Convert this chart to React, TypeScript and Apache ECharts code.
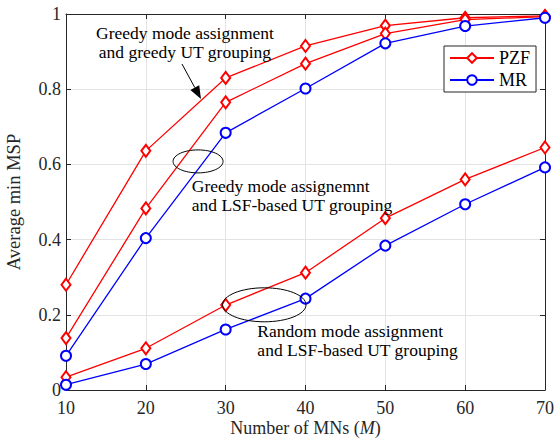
import React, { useEffect, useRef } from "react";
import * as echarts from "echarts";

const mnCounts = [10, 20, 30, 40, 50, 60, 70];
const pzfGreedyGreedy = [0.28, 0.636, 0.83, 0.915, 0.969, 0.99, 0.995];
const pzfGreedyLsf = [0.138, 0.483, 0.765, 0.868, 0.948, 0.985, 0.993];
const mrGreedyLsf = [0.091, 0.404, 0.684, 0.802, 0.922, 0.968, 0.99];
const pzfRandomLsf = [0.034, 0.111, 0.226, 0.312, 0.457, 0.56, 0.645];
const mrRandomLsf = [0.014, 0.069, 0.161, 0.243, 0.384, 0.494, 0.592];
const xTickLabels = ["10", "20", "30", "40", "50", "60", "70"];
const yTickLabels = ["0", "0.2", "0.4", "0.6", "0.8", "1"];
const legendNames = ["PZF", "MR"];

const FONT = "'Liberation Serif', 'DejaVu Serif', serif";
const INK = "#262626";
const RED = "#ff0000";
const BLUE = "#0000ff";

// annotation anchors in data coordinates
const note1Anchor = [24.9, 0.925];
const arrowFrom = [24.53, 0.867];
const arrowTo = [26.91, 0.774];
const ellipse1Center = [26.54, 0.608];
const note2Anchor = [25.75, 0.517];
const ellipse2Center = [34.84, 0.2266];
const note3Anchor = [33.97, 0.131];

function pairs(ys: number[]) {
  return mnCounts.map((x, i) => [x, ys[i]]);
}

export default function App() {
  const ref = useRef<HTMLDivElement>(null);
  useEffect(() => {
    if (!ref.current) return;
    const chart = echarts.init(ref.current, null, { renderer: "svg" });
    const lineSeries = (name: string, ys: number[], color: string, symbol: string, size: any) => ({
      type: "line",
      name,
      data: pairs(ys),
      color,
      symbol,
      symbolSize: size,
      showAllSymbol: true,
      lineStyle: { color, width: 1.3 },
      itemStyle: { color, borderColor: color, borderWidth: 1.3 },
      z: 3,
    });
    const option: any = {
      animation: false,
      backgroundColor: "#fff",
      textStyle: { fontFamily: FONT },
      grid: { left: 66, right: 9, top: 14, bottom: 48, containLabel: false, outerBoundsMode: "none" },
      xAxis: [
        {
          type: "value",
          min: 10,
          max: 70,
          interval: 10,
          name: "{n|Number of MNs (}{i|M}{n|)}",
          nameLocation: "middle",
          nameGap: 30,
          nameMoveOverlap: false,
          nameTextStyle: {
            fontFamily: FONT,
            fontSize: 18,
            color: INK,
            lineHeight: 16,
            rich: {
              n: { fontFamily: FONT, fontSize: 18, color: INK, lineHeight: 16 },
              i: { fontFamily: FONT, fontStyle: "italic", fontSize: 18, color: INK, lineHeight: 16 },
            },
          },
          axisLine: { show: true, lineStyle: { color: INK, width: 1 } },
          axisTick: { show: true, inside: true, length: 5, lineStyle: { color: INK } },
          axisLabel: {
            color: INK,
            fontSize: 18,
            fontFamily: FONT,
            margin: 9,
            formatter: (v: number) => xTickLabels[mnCounts.indexOf(v)] ?? "",
          },
          splitLine: { show: true, lineStyle: { color: "#e3e3e3", width: 1 } },
        },
        {
          type: "value",
          position: "top",
          min: 10,
          max: 70,
          interval: 10,
          axisLine: { show: true, onZero: false, lineStyle: { color: INK, width: 1 } },
          axisTick: { show: true, inside: true, length: 5, lineStyle: { color: INK } },
          axisLabel: { show: false },
          splitLine: { show: false },
        },
      ],
      yAxis: [
        {
          type: "value",
          min: 0,
          max: 1,
          interval: 0.2,
          name: "Average min MSP",
          nameLocation: "middle",
          nameGap: 43,
          nameMoveOverlap: false,
          nameTextStyle: { fontFamily: FONT, fontSize: 18.5, color: INK },
          axisLine: { show: true, lineStyle: { color: INK, width: 1 } },
          axisTick: { show: true, inside: true, length: 5, lineStyle: { color: INK } },
          axisLabel: {
            color: INK,
            fontSize: 18,
            fontFamily: FONT,
            margin: 5,
            formatter: (v: number) => yTickLabels[Math.round(v * 5)] ?? "",
          },
          splitLine: { show: true, lineStyle: { color: "#e3e3e3", width: 1 } },
        },
        {
          type: "value",
          position: "right",
          min: 0,
          max: 1,
          interval: 0.2,
          axisLine: { show: true, onZero: false, lineStyle: { color: INK, width: 1 } },
          axisTick: { show: true, inside: true, length: 5, lineStyle: { color: INK } },
          axisLabel: { show: false },
          splitLine: { show: false },
        },
      ],
      legend: {
        data: legendNames,
        left: 444,
        top: 46,
        orient: "vertical",
        itemWidth: 44,
        itemHeight: 12,
        itemGap: 4,
        padding: [3, 6, 3, 5],
        backgroundColor: "#fff",
        borderColor: INK,
        borderWidth: 1,
        borderRadius: 0,
        textStyle: { fontFamily: FONT, fontSize: 18, color: "#000" },
        z: 10,
      },
      series: [
        lineSeries("PZF", pzfGreedyGreedy, RED, "emptyDiamond", [9, 12]),
        lineSeries("PZF", pzfGreedyLsf, RED, "emptyDiamond", [9, 12]),
        lineSeries("MR", mrGreedyLsf, BLUE, "emptyCircle", 10),
        lineSeries("PZF", pzfRandomLsf, RED, "emptyDiamond", [9, 12]),
        lineSeries("MR", mrRandomLsf, BLUE, "emptyCircle", 10),
      ],
    };
    chart.setOption(option);

    const px = (p: number[]) => chart.convertToPixel({ gridIndex: 0 }, p) as number[];
    const n1 = px(note1Anchor);
    const a0 = px(arrowFrom);
    const a1 = px(arrowTo);
    const e1 = px(ellipse1Center);
    const n2 = px(note2Anchor);
    const e2 = px(ellipse2Center);
    const n3 = px(note3Anchor);

    const dx = a1[0] - a0[0];
    const dy = a1[1] - a0[1];
    const len = Math.sqrt(dx * dx + dy * dy);
    const ux = dx / len;
    const uy = dy / len;
    const headLen = 13;
    const headW = 5;
    const bx = a1[0] - ux * headLen;
    const by = a1[1] - uy * headLen;

    const textStyle = {
      fontFamily: FONT,
      fontSize: 17.5,
      fill: "#000",
      lineHeight: 19,
    };

    chart.setOption({
      graphic: [
        {
          type: "text",
          x: n1[0],
          y: n1[1],
          z: 20,
          style: {
            ...textStyle,
            text: "Greedy mode assignment\nand greedy UT grouping",
            align: "center",
            verticalAlign: "middle",
          },
        },
        {
          type: "line",
          z: 20,
          shape: { x1: a0[0], y1: a0[1], x2: bx, y2: by },
          style: { stroke: "#000", lineWidth: 1 },
        },
        {
          type: "polygon",
          z: 20,
          shape: {
            points: [
              [a1[0], a1[1]],
              [bx - uy * headW, by + ux * headW],
              [bx + uy * headW, by - ux * headW],
            ],
          },
          style: { fill: "#000" },
        },
        {
          type: "ellipse",
          z: 20,
          shape: { cx: e1[0], cy: e1[1], rx: 25, ry: 11.5 },
          style: { fill: "none", stroke: "#000", lineWidth: 1 },
        },
        {
          type: "text",
          x: n2[0],
          y: n2[1],
          z: 20,
          style: {
            ...textStyle,
            text: "Greedy mode assignemnt\nand LSF-based UT grouping",
            align: "left",
            verticalAlign: "middle",
          },
        },
        {
          type: "ellipse",
          z: 20,
          shape: { cx: e2[0], cy: e2[1], rx: 41.7, ry: 17 },
          style: { fill: "none", stroke: "#000", lineWidth: 1 },
        },
        {
          type: "text",
          x: n3[0],
          y: n3[1],
          z: 20,
          style: {
            ...textStyle,
            text: "Random mode assignment\nand LSF-based UT grouping",
            align: "left",
            verticalAlign: "middle",
          },
        },
      ],
    });

    return () => chart.dispose();
  }, []);
  return (
    <div
      ref={ref}
      style={{ position: "fixed", left: 0, top: 0, width: 554, height: 438, background: "#fff" }}
    />
  );
}
